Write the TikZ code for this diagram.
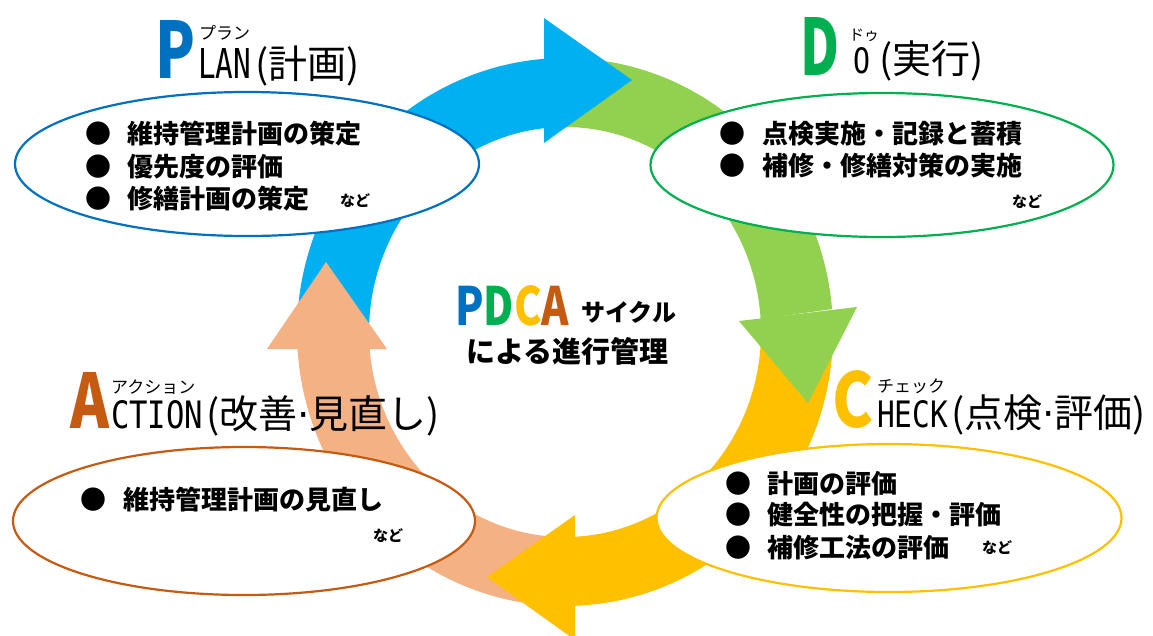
\documentclass[tikz,border=0pt]{standalone}
\usepackage{fontspec}
\setmainfont{Noto Sans CJK JP}
\newfontfamily\monofnt{DejaVu Sans Mono}
\newfontfamily\djvfnt{DejaVu Sans}
\usetikzlibrary{shapes.geometric}
\definecolor{pblue}{HTML}{0070C0}
\definecolor{dgreen}{HTML}{00B050}
\definecolor{cyell}{HTML}{FFC000}
\definecolor{aorng}{HTML}{C55A11}
\definecolor{arblue}{HTML}{00B0F0}
\definecolor{argreen}{HTML}{92D050}
\definecolor{aryell}{HTML}{FFC000}
\definecolor{arorng}{HTML}{F4B183}
\def\cx{565}\def\cy{332}\def\Rox{268}\def\Roy{274}\def\Rix{196}\def\Riy{205}
\newcommand\ringshaft[5]{\fill[#1] plot[domain=#2:#3,samples=60] ({\cx+\Rox*cos(\x)},{\cy-\Roy*sin(\x)}) -- plot[domain=#4:#5,samples=60] ({\cx+\Rix*cos(#4+#5-\x)},{\cy-\Riy*sin(#4+#5-\x)}) -- cycle;}
\tikzset{
  phase/.style={ellipse, draw=#1, line width=2.2pt, fill=white, inner sep=0pt},
  item/.style={anchor=west, inner sep=0pt, font=\fontsize{26}{26}\selectfont\bfseries},
  nado/.style={anchor=west, inner sep=0pt, font=\fontsize{15}{15}\selectfont\bfseries},
  big/.style={anchor=base west, inner sep=0pt, text=#1, font=\bfseries},
  head/.style={anchor=base west, inner sep=0pt, font=\fontsize{39}{39}\selectfont},
  ruby/.style={anchor=base west, inner sep=0pt, font=\fontsize{17}{17}\selectfont},
}
\newcommand\bul[1]{\makebox[#1][l]{●}}
\newcommand\mdot{{\djvfnt ·}}
\begin{document}
\begin{tikzpicture}[x=1pt,y=-1pt]
\useasboundingbox (0,0) rectangle (1153,635);
% ring shafts
\ringshaft{arblue}{94.5}{180}{96.2}{180}
\ringshaft{argreen}{4.8}{92}{3.6}{92}
\ringshaft{aryell}{-87.9}{0}{-87.1}{0}
\ringshaft{arorng}{183.6}{268}{184.8}{268}
% arrow heads
\coordinate (bh1) at (544,18); \coordinate (bh2) at (632,80); \coordinate (bh3) at (544,143);
\fill[arblue] (bh1) -- (bh2) -- (bh3) -- cycle;
\coordinate (gh1) at (739,321); \coordinate (gh2) at (808,403); \coordinate (gh3) at (857,307);
\fill[argreen] (gh1) -- (gh2) -- (gh3) -- cycle;
\coordinate (yh1) at (575,515); \coordinate (yh2) at (487,577); \coordinate (yh3) at (575,640);
\fill[aryell] (yh1) -- (yh2) -- (yh3) -- cycle;
\coordinate (oh1) at (267,349); \coordinate (oh2) at (326,262); \coordinate (oh3) at (387,349);
\fill[arorng] (oh1) -- (oh2) -- (oh3) -- cycle;
% ellipses
\node[phase=pblue, minimum width=464pt, minimum height=144pt] (plan) at (247,164) {};
\node[phase=dgreen, minimum width=463pt, minimum height=144pt] (do) at (882,165) {};
\node[phase=cyell, minimum width=465pt, minimum height=148pt] (check) at (889,518) {};
\node[phase=aorng, minimum width=462pt, minimum height=148pt] (act) at (244,521) {};
% PLAN text
\node[item] (p1) at (85,133.5) {\bul{42pt}維持管理計画の策定};
\node[item] (p2) at (85,166.5) {\bul{42pt}優先度の評価};
\node[item] (p3) at (85,198.5) {\bul{42pt}修繕計画の策定};
\node[nado] (pn) at (340,201) {など};
% DO text
\node[item] (d1) at (719,134) {\bul{43pt}点検実施・記録と蓄積};
\node[item] (d2) at (719,166) {\bul{43pt}補修・修繕対策の実施};
\node[nado] (dn) at (1012,201.5) {など};
% CHECK text
\node[item] (c1) at (725,483.5) {\bul{42pt}計画の評価};
\node[item] (c2) at (725,515) {\bul{42pt}健全性の把握・評価};
\node[item] (c3) at (725,548) {\bul{42pt}補修工法の評価};
\node[nado] (cn) at (982,548) {など};
% ACTION text
\node[item] (a1) at (80,500) {\bul{43pt}維持管理計画の見直し};
\node[nado] (an) at (373,536) {など};
% headings
\node[big=pblue] (hp) at (155,78) {\resizebox{40pt}{58pt}{P}};
\node[head] (hplan) at (198,78) {\resizebox{53pt}{30pt}{\monofnt LAN}\hspace{4pt}(計画)};
\node[ruby] (rp) at (199,39) {プラン};
\node[big=dgreen] (hd) at (800,75) {\resizebox{39pt}{58pt}{D}};
\node[head] (hdo) at (853,73) {\resizebox{17pt}{26pt}{\monofnt O}\hspace{9pt}(実行)};
\node[ruby, font=\fontsize{15}{15}\selectfont] (rd) at (849,40) {ドゥ};
\node[big=cyell] (hc) at (832,427) {\resizebox{41pt}{57pt}{C}};
\node[head] (hcheck) at (877,427) {\resizebox{71pt}{27pt}{\monofnt HECK}\hspace{3pt}(点検\mdot 評価)};
\node[ruby] (rc) at (877,392) {チェック};
\node[big=aorng] (ha) at (70,428) {\resizebox{39pt}{56pt}{A}};
\node[head] (haction) at (111,428) {\resizebox{92pt}{28pt}{\monofnt CTION}\hspace{3pt}(改善\mdot 見直し)};
\node[ruby] (ra) at (111,393) {アクション};
% center
\node[anchor=base west, inner sep=0pt, font=\bfseries] (pdca) at (455,325) {\resizebox{114pt}{40pt}{\textcolor{pblue}{P}\textcolor{dgreen}{D}\textcolor{cyell}{C}\textcolor{aorng}{A}}};
\node[anchor=west, inner sep=0pt, font=\fontsize{24}{24}\selectfont\bfseries] (cyc) at (581,312) {サイクル};
\node[anchor=west, inner sep=0pt, font=\fontsize{29}{29}\selectfont\bfseries] (mgmt) at (466,351) {による進行管理};
\end{tikzpicture}
\end{document}
